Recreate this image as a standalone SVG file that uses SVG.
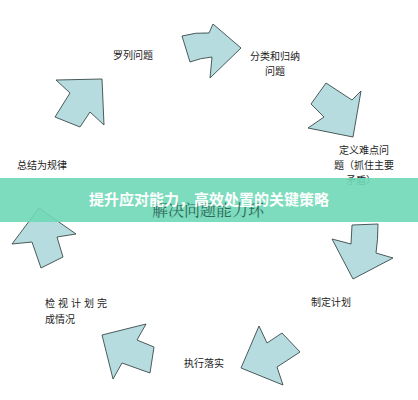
<svg xmlns="http://www.w3.org/2000/svg" width="418" height="400" viewBox="0 0 418 400">
<style>
.arr{fill:#b6dcdf;stroke:#3a4a4a;stroke-width:0.9;stroke-linejoin:miter}
.lbl{font-family:"Noto Sans CJK SC","Noto Sans",sans-serif;font-size:10px;fill:#222}
.ttl{font-family:"Noto Sans CJK SC",sans-serif;font-size:15px;font-weight:bold;fill:#ffffff}
.sub{font-family:"Noto Serif CJK SC","Noto Sans CJK SC",serif;font-size:16px;fill:#2f6a58}
</style>
<rect width="418" height="400" fill="#ffffff"/>
<g id="connectors">
<path class="arr" d="M182,36 Q196,32 209,33 L213,24 L241,48 L210,78 L212,57 Q200,58 190,62 Z"/>
<path class="arr" d="M326,83 L352,100 L361,91 L353,137 L308,128 L324,117 L311,104 Z"/>
<path class="arr" d="M352,225 L378,224 Q378,240 376,253 L393,258 L353,279 L332,239 L351,244 Z"/>
<path class="arr" d="M259,326 L267,343 L282,333 L300,352 L277,367 L283,385 L241,368 Z"/>
<path class="arr" d="M102,335 L146,324 L137,340 L154,347 L150,373 L122,363 L113,379 Z"/>
<path class="arr" d="M39,208 L76,234 L57,237 L63,257 L41,268 L32,242 L12,244 Z"/>
<path class="arr" d="M56,80 L102,79 L104,125 L90,112 L80,127 L55,117 L70,93 Z"/>
</g>
<g id="n1"><text class="lbl" x="133" y="59" text-anchor="middle">罗列问题</text></g>
<g id="n2"><text class="lbl" x="275" y="60" text-anchor="middle">分类和归纳</text><text class="lbl" x="275" y="75" text-anchor="middle">问题</text></g>
<g id="n3"><text class="lbl" x="364" y="154" text-anchor="middle">定义难点问</text><text class="lbl" x="364" y="169" text-anchor="middle">题（抓住主要</text><text class="lbl" x="361" y="184" text-anchor="middle">矛盾）</text></g>
<g id="n4"><text class="lbl" x="331" y="306" text-anchor="middle">制定计划</text></g>
<g id="n5"><text class="lbl" x="204" y="367" text-anchor="middle">执行落实</text></g>
<g id="n6"><text class="lbl" x="45" y="307" letter-spacing="3">检视计划完</text><text class="lbl" x="45" y="323">成情况</text></g>
<g id="n7"><text class="lbl" x="17" y="169">总结为规律</text></g>
<g id="banner">
<rect x="0" y="178" width="418" height="44" fill="#6fd8b6" opacity="0.9"/>
</g>
<g id="center"><text class="sub" x="208" y="216" text-anchor="middle">解决问题能力环</text></g>
<g id="title"><text class="ttl" x="209" y="205" text-anchor="middle">提升应对能力，高效处置的关键策略</text></g>
</svg>
